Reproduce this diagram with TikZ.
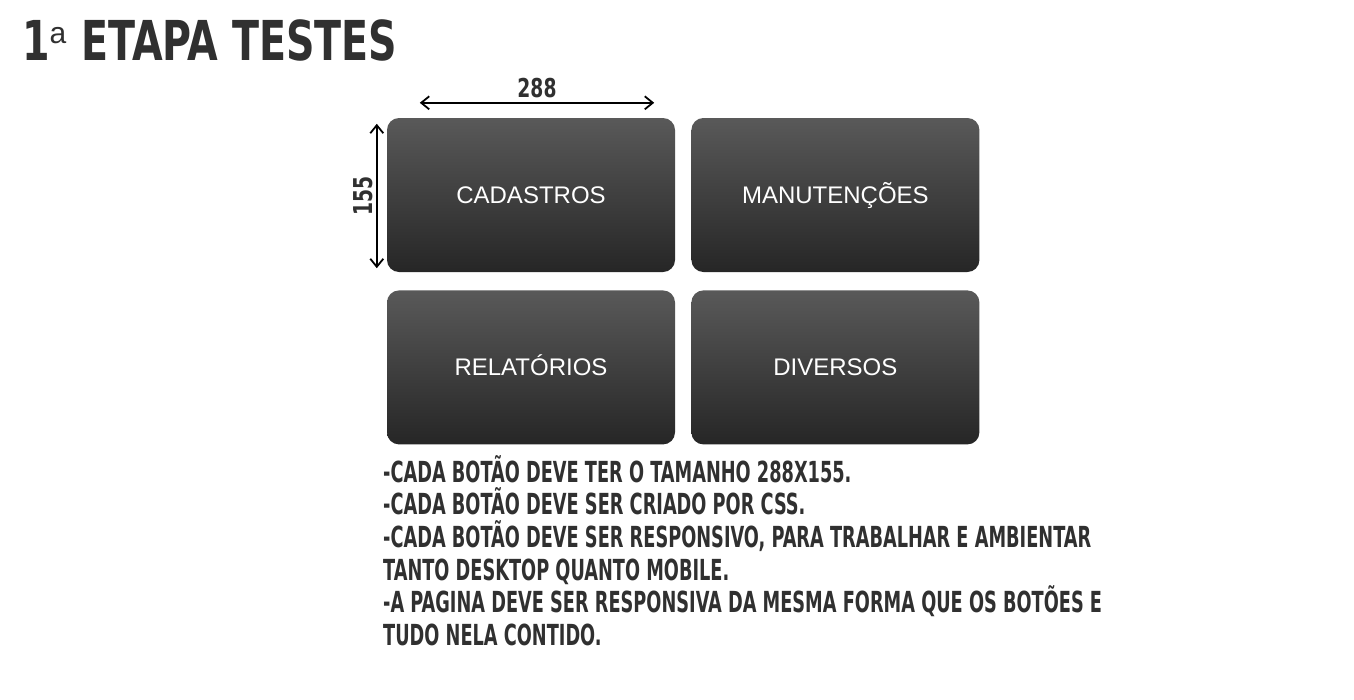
\documentclass[tikz,border=0pt]{standalone}
\usepackage{fontspec}
\usetikzlibrary{arrows.meta,calc,positioning}
\newfontfamily\dispfont[FakeStretch=0.68]{DejaVu Sans Condensed}
\newfontfamily\titlefont[FakeStretch=0.80]{DejaVu Sans Condensed}
\newfontfamily\btnfont{Liberation Sans}
\definecolor{Ink}{HTML}{303030}
\definecolor{BtnTop}{HTML}{595959}
\definecolor{BtnBottom}{HTML}{262626}
\tikzset{
  button/.style={
    rounded corners=12pt, top color=BtnTop, bottom color=BtnBottom,
    minimum width=288pt, minimum height=154pt, inner sep=0pt,
    text height=17pt, text depth=0pt,
    text=white, font=\btnfont\fontsize{24}{28}\selectfont
  },
  dimline/.style={{Straight Barb[length=8pt,width=13pt]}-{Straight Barb[length=8pt,width=13pt]}, line width=1.8pt, draw=black},
  dimlabel/.style={text=Ink, inner sep=0pt, font=\titlefont\bfseries\fontsize{26}{26}\selectfont},
  note/.style={text=Ink, inner sep=0pt, align=left, font=\dispfont\bfseries\fontsize{29}{32.6}\selectfont}
}
\begin{document}
\begin{tikzpicture}[x=1pt,y=-1pt]
    \fill[white] (0,0) rectangle (1354,699);
    \useasboundingbox (0,0) rectangle (1354,699);
    \node[anchor=base west,text=Ink,inner sep=0pt] (title) at (22,60)
      {\titlefont\bfseries\fontsize{55}{55}\selectfont 1\raisebox{17pt}{\btnfont\mdseries\fontsize{30}{30}\selectfont a}\hspace{15pt}ETAPA TESTES};
    \node[button] (cadastros) at (531,195) {CADASTROS};
    \node[button,right=16pt of cadastros] (manutencoes) {MANUTENÇÕES};
    \node[button,below=18pt of cadastros] (relatorios) {RELATÓRIOS};
    \node[button,right=16pt of relatorios] (diversos) {DIVERSOS};
    % medidas do botao
    \coordinate (wL) at ([shift={(33pt,15pt)}]cadastros.north west);
    \coordinate (wR) at ([shift={(-21pt,15pt)}]cadastros.north east);
    \coordinate (hT) at ([shift={(-10pt,-6pt)}]cadastros.north west);
    \coordinate (hB) at ([shift={(-10pt,4pt)}]cadastros.south west);
    \draw[dimline] (wL)--(wR);
    \draw[dimline] (hT)--(hB);
    \node[dimlabel,anchor=south] (wlabel) at ([yshift=5pt]$(wL)!0.5!(wR)$) {288};
    \node[dimlabel,rotate=90,anchor=south] (hlabel) at ([xshift=-4pt]$(hT)!0.5!(hB)$) {155};
    \node[note,anchor=north west] (notes) at (383,455)
      {-CADA BOTÃO DEVE TER O TAMANHO 288X155.\\
       -CADA BOTÃO DEVE SER CRIADO POR CSS.\\
       -CADA BOTÃO DEVE SER RESPONSIVO, PARA TRABALHAR E AMBIENTAR\\
       TANTO DESKTOP QUANTO MOBILE.\\
       -A PAGINA DEVE SER RESPONSIVA DA MESMA FORMA QUE OS BOTÕES E\\
       TUDO NELA CONTIDO.};
  \end{tikzpicture}
\end{document}
